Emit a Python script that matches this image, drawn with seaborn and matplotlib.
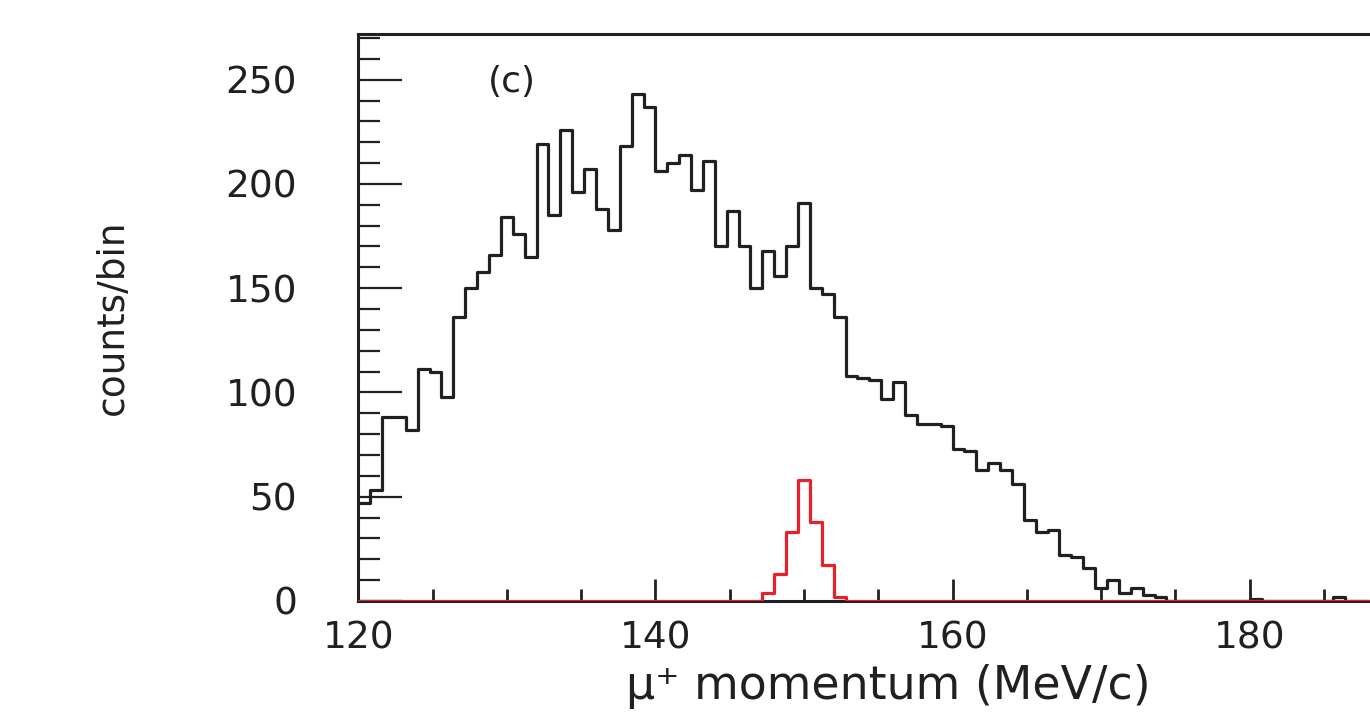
import numpy as np
import pandas as pd
import matplotlib.pyplot as plt
import seaborn as sns
from matplotlib.ticker import MultipleLocator

# histogram binning (MeV/c)
bin_width = 0.8
first_edge = 120.0

# all events, counts per 0.8 MeV/c bin starting at 120
all_counts = [
    47, 53, 88, 88, 82, 111, 110, 98, 136, 150,
    158, 166, 184, 176, 165, 219, 185, 226, 196, 207,
    188, 178, 218, 243, 237, 206, 210, 214, 197, 211,
    170, 187, 170, 150, 168, 156, 170, 191, 150, 147,
    136, 108, 107, 106, 97, 105, 89, 85, 85, 84,
    73, 72, 63, 66, 63, 56, 39, 33, 34, 22,
    21, 16, 6, 10, 4, 6, 3, 2, 0, 0,
    0, 0, 0, 0, 0, 1, 0, 0, 0, 0,
    0, 0, 2, 0, 0,
]

# selected signal events, same binning
signal_counts = [
    0, 0, 0, 0, 0, 0, 0, 0, 0, 0,
    0, 0, 0, 0, 0, 0, 0, 0, 0, 0,
    0, 0, 0, 0, 0, 0, 0, 0, 0, 0,
    0, 0, 0, 0, 4, 13, 33, 58, 38, 17,
    2, 0, 0, 0, 0, 0, 0, 0, 0, 0,
    0, 0, 0, 0, 0, 0, 0, 0, 0, 0,
    0, 0, 0, 0, 0, 0, 0, 0, 0, 0,
    0, 0, 0, 0, 0, 0, 0, 0, 0, 0,
    0, 0, 0, 0, 0,
]

panel_label = "(c)"
x_label = "μ⁺ momentum (MeV/c)"
y_label = "counts/bin"

sns.set_theme(style="white")
plt.rcParams['font.family'] = ['DejaVu Sans']

edges = first_edge + bin_width * np.arange(len(all_counts) + 1)
centers = 0.5 * (edges[:-1] + edges[1:])
df = pd.DataFrame({"momentum": centers, "all": all_counts, "signal": signal_counts})
bin_list = edges.tolist()  # seaborn chokes on an ndarray here

fig = plt.figure(figsize=(13.7, 7.12), dpi=100)
ax = fig.add_axes([0.2615, 0.156, 0.7385, 0.7965])

sns.histplot(data=df, x="momentum", weights="all", bins=bin_list, element="step",
             fill=False, color="#231f20", linewidth=2.3, zorder=3, ax=ax)
sns.histplot(data=df, x="momentum", weights="signal", bins=bin_list, element="step",
             fill=False, color="#e8202a", linewidth=2.3, zorder=4, ax=ax)

ax.set_xlim(120, 188.1)
ax.set_ylim(0, 272)

for side in ["top", "left", "bottom"]:
    ax.spines[side].set_color("#231f20")
    ax.spines[side].set_linewidth(2.2)
ax.spines["right"].set_visible(False)

ax.xaxis.set_major_locator(MultipleLocator(20))
ax.xaxis.set_minor_locator(MultipleLocator(5))
ax.yaxis.set_major_locator(MultipleLocator(50))
ax.yaxis.set_minor_locator(MultipleLocator(10))

ax.tick_params(which="both", bottom=True, left=True, top=False, right=False)
ax.tick_params(axis="x", which="major", direction="in", length=16, width=2,
               color="#231f20", pad=14, labelsize=27, labelcolor="#231f20")
ax.tick_params(axis="x", which="minor", direction="in", length=8.5, width=2,
               color="#231f20")
ax.tick_params(axis="y", which="major", direction="in", length=32, width=1.6,
               color="#231f20", pad=44, labelsize=27, labelcolor="#231f20")
ax.tick_params(axis="y", which="minor", direction="in", length=16, width=1.6,
               color="#231f20")

ax.set_xlabel(x_label, fontsize=33, color="#231f20", va="bottom")
ax.xaxis.set_label_coords(0.524, -0.19)
ax.set_ylabel(y_label, fontsize=27, color="#231f20")
ax.yaxis.set_label_coords(-0.225, 0.5)

ax.text(0.152, 0.915, panel_label, transform=ax.transAxes, fontsize=26,
        ha="center", va="center", color="#231f20")

fig.savefig("out.png", dpi=100)
